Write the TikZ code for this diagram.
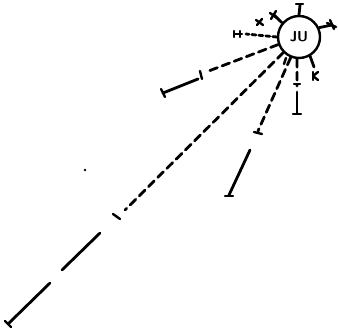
\documentclass[tikz,border=0pt]{standalone}
\usetikzlibrary{calc}
\begin{document}
\begin{tikzpicture}[x=1pt,y=-1pt,
  ink/.style={line width=2.8pt,line cap=round,black},
  dsh/.style={ink,dash pattern=on 8pt off 5pt},
  tick/.style={ink,line width=2.4pt}]
\useasboundingbox (0,0) rectangle (339,331);
\node[draw,circle,line width=2.4pt,minimum size=42pt,inner sep=0pt,font=\sffamily\bfseries\Large] (ju) at (299,37) {JU};
% long ray
\coordinate (a1) at (125,210);
\coordinate (a2) at (113,214);
\coordinate (a3) at (120,219);
\coordinate (a4) at (100,233);
\coordinate (a5) at (62,270);
\coordinate (a6) at (50,283);
\coordinate (a7) at (8,324);
\draw[dsh] (ju) -- (a1);
\draw[tick] (a2) -- (a3);
\draw[ink] (a4) -- (a5);
\draw[ink] (a6) -- (a7);
\draw[tick] (5,321) -- (11,327);
% ray to left
\coordinate (b1) at (206,72);
\coordinate (b2) at (198,79);
\coordinate (b3) at (163,93);
\draw[dsh] (ju.200) -- (b1);
\draw[tick] (200,71) -- (202,79);
\draw[ink] (b2) -- (b3);
\draw[tick] (161,89) -- (165,97);
% middle ray
\coordinate (c1) at (258,131);
\coordinate (c2) at (250,150);
\coordinate (c3) at (229,195);
\draw[dsh] (ju.248) -- (c1);
\draw[tick] (254,132) -- (262,134);
\draw[ink] (c2) -- (c3);
\draw[tick] (225,196) -- (233,196);
% vertical ray
\coordinate (d1) at (297,86);
\coordinate (d2) at (297,92);
\coordinate (d3) at (297,113);
\draw[dsh] (ju.265) -- (d1);
\draw[tick] (294,84) -- (300,84);
\draw[ink] (d2) -- (d3);
\draw[tick] (293,114) -- (301,114);
% short rays around the circle
\coordinate (e1) at (300,5);
\draw[ink] (ju.north) -- (e1);
\draw[tick] (296,4) -- (303,4);
\coordinate (f1) at (274,15);
\draw[ink] (ju.140) -- (f1);
\draw[tick] (270,13) -- (277,18);
\draw[tick] (271,19) -- (276,11);
\draw[tick] (256,20) -- (263,25);
\draw[tick] (257,25) -- (262,19);
\coordinate (g1) at (246,34);
\draw[ink,dash pattern=on 4pt off 3pt] (ju.west) -- (g1);
\draw[tick] (234,31) -- (234,37);
\draw[tick] (234,34) -- (242,34);
\draw[tick] (240,31) -- (240,37);
\coordinate (h1) at (332,25);
\draw[ink] (ju.25) -- (h1);
\draw[tick] (327,23) -- (336,27);
\draw[tick] (330,20) -- (334,29);
\coordinate (k1) at (314,67);
\draw[ink] (ju.300) -- (k1);
\draw[tick] (313,72) -- (313,80);
\draw[tick] (313,76) -- (318,72);
\draw[tick] (313,76) -- (318,80);
\draw[tick] (286,58) -- (284,64);
% dot
\fill (85,170) circle (1.4pt);
\end{tikzpicture}
\end{document}
